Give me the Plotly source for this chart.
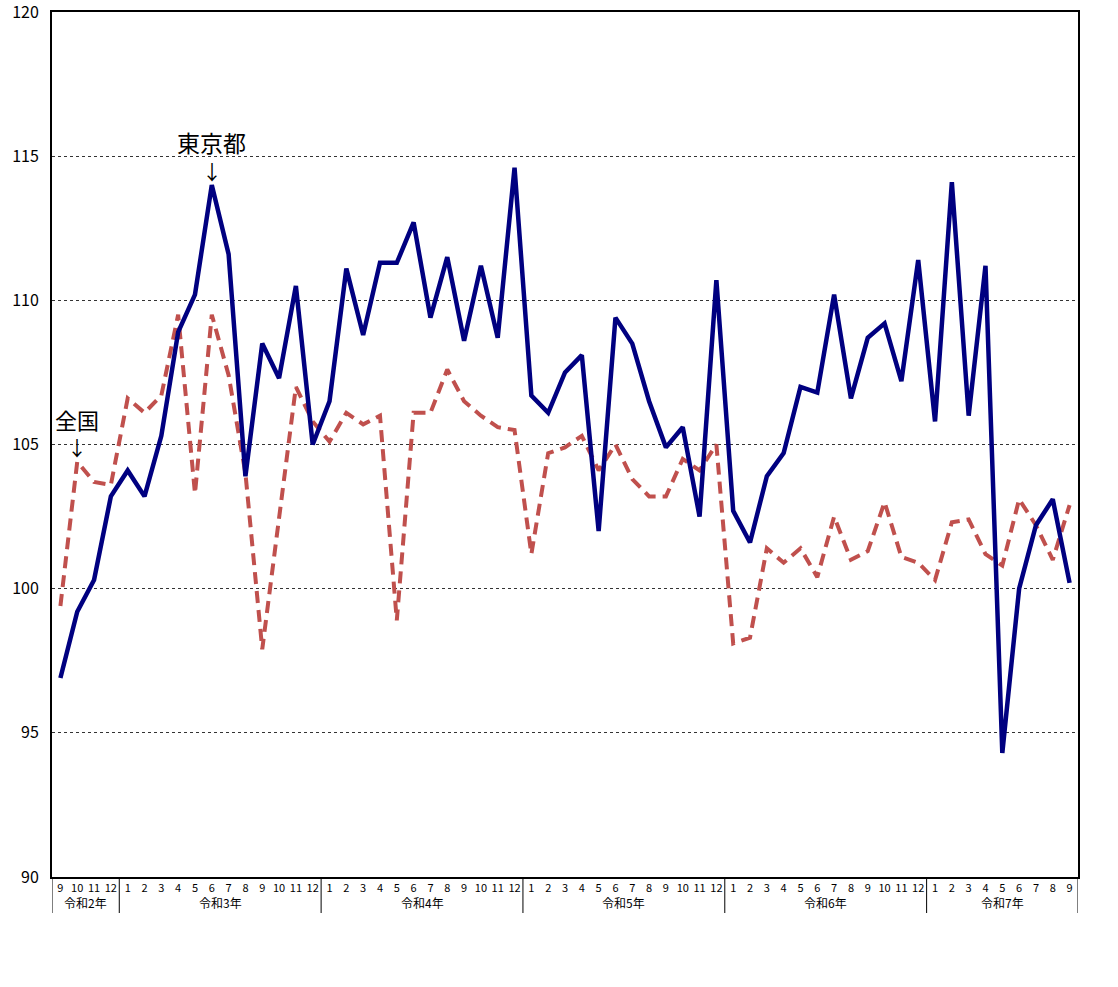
import plotly.graph_objects as go

# x-axis categories (令和2年9月 ～ 令和7年9月)
year_groups = (["令和2年"] * 4 + ["令和3年"] * 12 + ["令和4年"] * 12 +
               ["令和5年"] * 12 + ["令和6年"] * 12 + ["令和7年"] * 9)
months = ([9, 10, 11, 12] + list(range(1, 13)) * 4 + list(range(1, 10)))
month_labels = [str(m) for m in months]

# 東京都
tokyo = [96.9, 99.2, 100.3, 103.2,
         104.1, 103.2, 105.3, 108.9, 110.2, 114.0, 111.6, 103.9, 108.5, 107.3, 110.5, 105.0,
         106.5, 111.1, 108.8, 111.3, 111.3, 112.7, 109.4, 111.5, 108.6, 111.2, 108.7, 114.6,
         106.7, 106.1, 107.5, 108.1, 102.0, 109.4, 108.5, 106.5, 104.9, 105.6, 102.5, 110.7,
         102.7, 101.6, 103.9, 104.7, 107.0, 106.8, 110.2, 106.6, 108.7, 109.2, 107.2, 111.4,
         105.8, 114.1, 106.0, 111.2, 94.3, 100.0, 102.2, 103.1, 100.2]

# 全国
zenkoku = [99.4, 104.4, 103.7, 103.6,
           106.6, 106.1, 106.7, 109.5, 103.3, 109.5, 107.4, 104.0, 97.9, 102.4, 107.0, 105.8,
           105.1, 106.1, 105.7, 106.0, 98.9, 106.1, 106.1, 107.6, 106.5, 106.0, 105.6, 105.5,
           101.2, 104.7, 104.9, 105.3, 104.1, 105.0, 103.8, 103.2, 103.2, 104.5, 104.1, 105.0,
           98.1, 98.3, 101.4, 100.9, 101.4, 100.4, 102.5, 101.0, 101.3, 103.0, 101.1, 100.9,
           100.3, 102.3, 102.4, 101.2, 100.8, 103.1, 102.2, 101.0, 102.9]

y_ticks = [90, 95, 100, 105, 110, 115, 120]

FONT = "Noto Sans CJK JP, sans-serif"
idx = list(range(len(months)))

fig = go.Figure()
fig.add_trace(go.Scatter(x=idx, y=zenkoku, mode="lines", name="全国",
                         line=dict(color="#C0504D", width=4, dash="12px,7px")))
fig.add_trace(go.Scatter(x=idx, y=tokyo, mode="lines", name="東京都",
                         line=dict(color="#000080", width=4.5)))

# series labels with arrows
i_t = tokyo.index(max(tokyo[:12]))
i_z = 1
for xi, yv, label, fs in [(i_t, tokyo[i_t], "東京都", 23), (i_z, zenkoku[i_z], "全国", 22)]:
    fig.add_annotation(x=xi, y=yv, xref="x", yref="y", text="↓", showarrow=False,
                       yanchor="middle", yshift=14, font=dict(family=FONT, size=20, color="black"))
    fig.add_annotation(x=xi, y=yv, xref="x", yref="y", text=label, showarrow=False,
                       yanchor="middle", yshift=43, font=dict(family=FONT, size=fs, color="black"))

# year group labels and dividers
groups = []
for i, g in enumerate(year_groups):
    if not groups or groups[-1][0] != g:
        groups.append([g, i, i])
    else:
        groups[-1][2] = i
for g, s, e in groups:
    fig.add_annotation(x=(s + e) / 2, y=0, xref="x", yref="paper", text=g, showarrow=False,
                       yanchor="middle", yshift=-25, font=dict(family=FONT, size=12, color="black"))
bounds = [groups[0][1] - 0.5] + [e + 0.5 for _, _, e in groups]
for b in bounds:
    fig.add_shape(type="line", xref="x", yref="paper", ysizemode="pixel", yanchor=0,
                  x0=b, x1=b, y0=0, y1=-36, line=dict(color="black", width=1))

fig.update_layout(
    width=1118, height=987,
    margin=dict(l=52, r=40, t=12, b=110),
    paper_bgcolor="white", plot_bgcolor="white",
    showlegend=False,
    font=dict(family=FONT, color="black"),
)
fig.update_xaxes(
    range=[-0.5, len(months) - 0.5],
    tickvals=idx, ticktext=month_labels,
    automargin=False,
    showline=True, linecolor="black", linewidth=2, mirror=True,
    showgrid=False, ticks="", tickangle=0, zeroline=False,
    tickfont=dict(family=FONT, size=11, color="black"),
)
fig.update_yaxes(
    range=[90, 120], tickvals=y_ticks,
    automargin=False, ticklabeloverflow="allow",
    showline=True, linecolor="black", linewidth=2, mirror=True,
    showgrid=True, gridcolor="#333333", gridwidth=1, griddash="dot",
    ticks="", zeroline=False, ticklabelstandoff=8,
    tickfont=dict(family=FONT, size=16, color="black"),
)

fig.write_html("out.html", config={"displayModeBar": False},
               post_script="document.body.style.margin='0';")
